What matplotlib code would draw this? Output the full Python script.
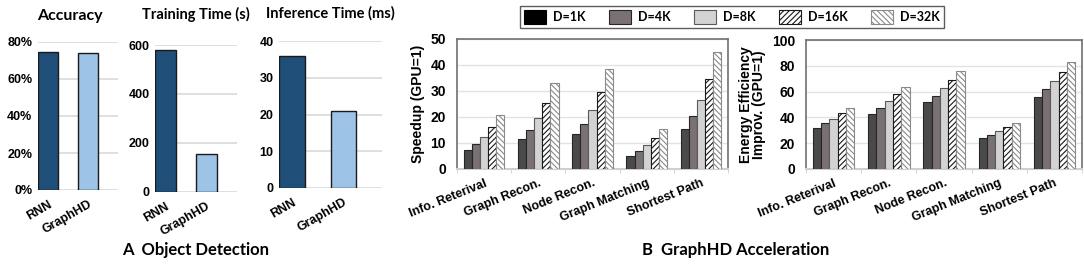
import matplotlib
matplotlib.use('Agg')
import matplotlib.pyplot as plt
from matplotlib.patches import Patch
import numpy as np

plt.rcParams['font.family'] = ['Liberation Sans', 'DejaVu Sans']
plt.rcParams['font.weight'] = 'bold'
plt.rcParams['axes.labelweight'] = 'bold'
plt.rcParams['hatch.linewidth'] = 0.8

# ---- panel A data
models = ['RNN', 'GraphHD']
accuracy = [0.745, 0.740]
train_time = [580, 154]
infer_time = [36, 21]

# ---- panel B data
tasks = ['Info. Reterival', 'Graph Recon.', 'Node Recon.', 'Graph Matching', 'Shortest Path']
dims = ['D=1K', 'D=4K', 'D=8K', 'D=16K', 'D=32K']
speedup = [
    [7.2, 11.4, 13.3, 5.1, 15.5],
    [9.5, 15.0, 17.4, 6.8, 20.4],
    [12.3, 19.5, 22.7, 9.1, 26.5],
    [16.0, 25.3, 29.6, 11.8, 34.5],
    [20.8, 32.9, 38.3, 15.4, 45.0],
]
energy = [
    [32.0, 42.9, 51.7, 23.8, 55.8],
    [35.4, 47.5, 56.8, 26.4, 61.8],
    [39.0, 52.5, 62.8, 29.2, 68.0],
    [43.2, 57.9, 69.3, 32.3, 74.9],
    [47.5, 63.6, 76.2, 35.7, 82.7],
]

W, H = 1084, 265
fig = plt.figure(figsize=(W / 100, H / 100), dpi=100)


def px_axes(left, top, right, bottom):
    return fig.add_axes([left / W, 1 - bottom / H, (right - left) / W, (bottom - top) / H])


blue_cols = ['#1f4e79', '#9dc3e6']
grid_col = '#d9d9d9'
title_font = ['Lato', 'DejaVu Sans']


def small_panel(ax, vals, ymax, step, fmt=None):
    ax.bar([0, 1], vals, width=0.5, color=blue_cols, edgecolor='#1a1a1a', linewidth=1.0, zorder=3)
    ax.set_xlim(-0.25, 1.75)
    ax.set_ylim(0, ymax)
    ticks = np.arange(0, ymax + step / 2, step)
    ax.set_yticks(ticks)
    if fmt:
        ax.set_yticklabels([fmt(t) for t in ticks])
    ax.yaxis.grid(True, color=grid_col, linewidth=1.2, zorder=0)
    for s in ax.spines.values():
        s.set_visible(False)
    ax.tick_params(length=0, labelsize=9, pad=4)
    ax.set_xticks([0, 1])
    ax.set_xticklabels(models, rotation=30, ha='right', rotation_mode='anchor')
    ax.tick_params(axis='x', pad=6)


ax1 = px_axes(38, 42, 118, 190)
small_panel(ax1, accuracy, 0.8, 0.2, lambda t: f'{t * 100:.0f}%')
ax2 = px_axes(155, 45, 237, 192)
small_panel(ax2, train_time, 600, 200)
ax3 = px_axes(279, 41, 382, 188)
small_panel(ax3, infer_time, 40, 10)

fig.text(70 / W, 1 - 16 / H, 'Accuracy', ha='center', va='center', fontsize=11.5, family=title_font)
fig.text(196 / W, 1 - 14 / H, 'Training Time (s)', ha='center', va='center', fontsize=10.5, family=title_font)
fig.text(330 / W, 1 - 13 / H, 'Inference Time (ms)', ha='center', va='center', fontsize=10.5, family=title_font)
fig.text(196 / W, 1 - 250 / H, 'A  Object Detection', ha='center', va='center', fontsize=12, family=title_font)
fig.text(736 / W, 1 - 250 / H, 'B  GraphHD Acceleration', ha='center', va='center', fontsize=12, family=title_font)

# ---- panel B
fills = ['#4a4a4a', '#7a7272', '#d3d3d3', 'white', 'white']
hatches = [None, None, None, '//////', '\\\\\\\\\\\\']
edges = ['#262626', '#262626', '#5a5a5a', '#1a1a1a', '#8a8a8a']
legend_fills = ['black', '#7a7272', '#d3d3d3', 'white', 'white']


def group_panel(ax, data, ymax, step, ylabel):
    x = np.arange(len(tasks))
    w = 0.15
    for i in range(len(dims)):
        ax.bar(x + (i - 2) * w, data[i], width=w, color=fills[i], edgecolor=edges[i],
               hatch=hatches[i], linewidth=0.8, zorder=3)
    ax.set_xlim(-0.5, 4.5)
    ax.set_ylim(0, ymax)
    ax.set_yticks(np.arange(0, ymax + step / 2, step))
    ax.yaxis.grid(True, color='#e3e3e3', linewidth=1.0, zorder=0)
    for k in ['top', 'left', 'right']:
        ax.spines[k].set_color('#707070')
        ax.spines[k].set_linewidth(1.2)
    ax.spines['bottom'].set_color('#cfcfcf')
    ax.spines['bottom'].set_linewidth(1.5)
    ax.set_xticks(x)
    ax.set_xticklabels(tasks, rotation=22, ha='right', rotation_mode='anchor')
    ax.set_xticks(np.arange(-0.5, 5, 1), minor=True)
    ax.tick_params(axis='x', which='major', length=0, labelsize=9, pad=6)
    ax.tick_params(axis='x', which='minor', length=3, color='#cfcfcf')
    ax.tick_params(axis='y', length=0, labelsize=10, pad=8)
    ax.set_ylabel(ylabel, fontsize=10, labelpad=4)


axb1 = px_axes(457, 39, 728, 169)
group_panel(axb1, speedup, 50, 10, 'Speedup (GPU=1)')
axb2 = px_axes(806, 40, 1082, 169)
group_panel(axb2, energy, 100, 20, 'Energy Efficiency\nImprov. (GPU=1)')
axb2.yaxis.label.set_linespacing(0.95)

handles = [Patch(facecolor=legend_fills[i], edgecolor=edges[i] if i != 0 else 'black',
                 hatch=hatches[i], linewidth=0.8) for i in range(len(dims))]
leg = fig.legend(handles, dims, loc='center', bbox_to_anchor=(732 / W, 1 - 17 / H), ncol=5,
                 frameon=True, fancybox=False, edgecolor='#333333',
                 handlelength=1.75, handleheight=1.4, columnspacing=1.9, handletextpad=0.55,
                 borderpad=0.3, prop={'family': title_font, 'weight': 'bold', 'size': 9})
leg.get_frame().set_linewidth(1.0)

fig.savefig('out.png', dpi=100)
